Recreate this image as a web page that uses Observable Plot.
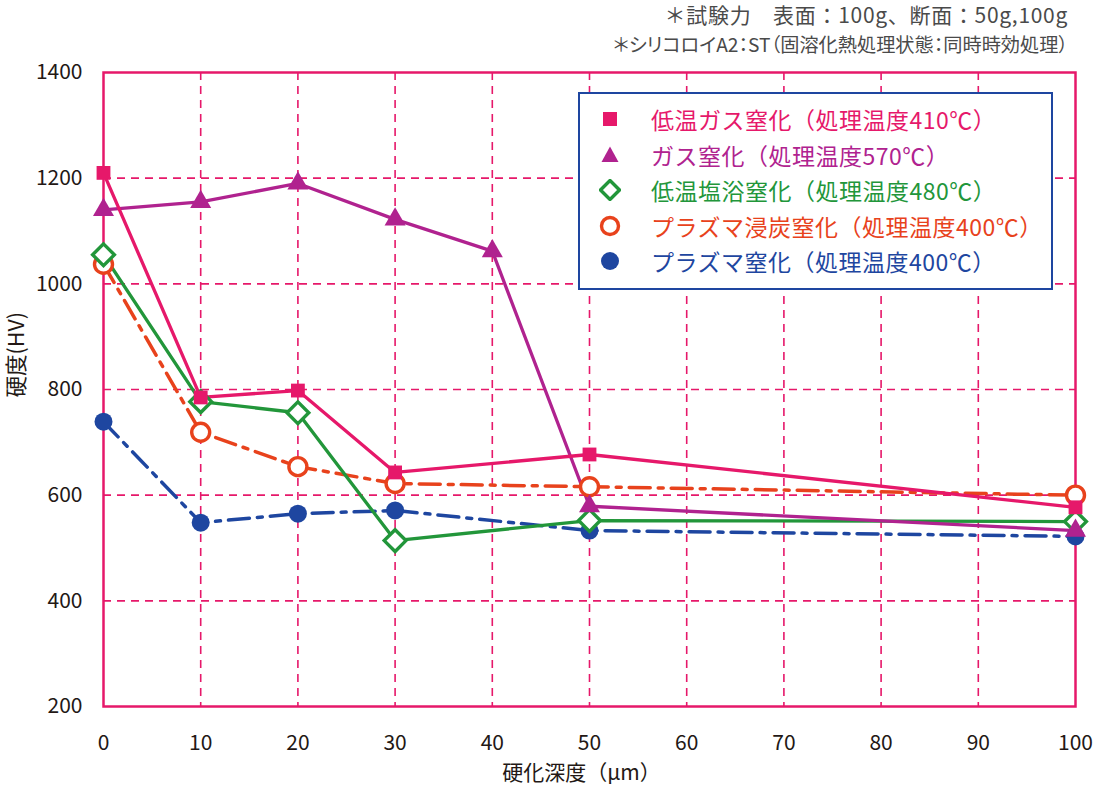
<!DOCTYPE html>
<html><head><meta charset="utf-8">
<script src="https://cdn.jsdelivr.net/npm/d3@7"></script>
<script src="https://cdn.jsdelivr.net/npm/@observablehq/plot@0.6"></script>
<style>
body{margin:0;background:#fff;}
#wrap{position:relative;width:1095px;height:794px;font-family:"Noto Sans CJK JP","Noto Sans",sans-serif;}
#legend{position:absolute;left:578px;top:92px;width:471px;height:194px;border:2px solid #1E46A0;background:#fff;}
.row{position:absolute;left:0;height:34px;display:flex;align-items:center;font-size:23px;white-space:nowrap;letter-spacing:0.5px;}
.row svg{margin-left:19px;margin-right:30px;flex:none;}
.note{position:absolute;right:27px;color:#4a4a4a;white-space:nowrap;line-height:1;}
</style></head>
<body><div id="wrap"></div>
<script>
const depthsA = [0, 10, 20, 30, 50, 100];
const depthsB = [0, 10, 20, 30, 40, 50, 100];
const lowTempGas = [1210, 785, 798, 643, 677, 577];
const gas570 = [1140, 1155, 1190, 1122, 1062, 579, 533];
const saltBath = [1055, 777, 756, 514, 552, 550];
const plasmaCarb = [1037, 719, 654, 622, 616, 600];
const plasma = [739, 548, 565, 571, 533, 522];
const names = ["低温ガス窒化（処理温度410℃）","ガス窒化（処理温度570℃）","低温塩浴窒化（処理温度480℃）","プラズマ浸炭窒化（処理温度400℃）","プラズマ窒化（処理温度400℃）"];
const xTicks = [0,10,20,30,40,50,60,70,80,90,100];
const yTicks = [200,400,600,800,1000,1200,1400];
const note1 = "＊試験力　表面：100g、断面：50g,100g";
const note2 = "＊シリコロイA2：ST（固溶化熱処理状態：同時時効処理）";
const xLabel = "硬化深度（μm）";
const yLabel = "硬度(HV)";

const PINK="#E6186A", MAG="#B0228F", GREEN="#22963A", ORANGE="#E8421C", BLUE="#1E46A0", TXT="#231815";
const mk = (xs, ys) => xs.map((x,i)=>({x, y: ys[i]}));
const sA = mk(depthsA, lowTempGas), sB = mk(depthsB, gas570), sC = mk(depthsA, saltBath),
      sD = mk(depthsA, plasmaCarb), sE = mk(depthsA, plasma);

const chart = Plot.plot({
  width: 1095, height: 794,
  marginLeft: 103, marginRight: 20, marginTop: 72, marginBottom: 88,
  style: {fontFamily: '"Noto Sans CJK JP","Noto Sans",sans-serif', background: "#fff", color: TXT},
  x: {domain: [0, 100]},
  y: {domain: [200, 1400]},
  marks: [
    Plot.ruleX(xTicks.slice(1, -1), {stroke: PINK, strokeWidth: 1.6, strokeDasharray: "8,6"}),
    Plot.ruleY(yTicks.slice(1, -1), {stroke: PINK, strokeWidth: 1.6, strokeDasharray: "8,6"}),
    Plot.frame({stroke: PINK, strokeWidth: 2.5}),
    Plot.axisX({ticks: xTicks, tickSize: 0, tickPadding: 29, fontSize: 21, label: null, fill: TXT, tickFormat: d => String(d)}),
    Plot.axisY({ticks: yTicks, tickSize: 0, tickPadding: 21, fontSize: 21, label: null, fill: TXT, tickFormat: d => String(d)}),
    Plot.text([xLabel], {frameAnchor: "bottom", dx: -8, dy: 73, fontSize: 21, fill: TXT}),
    Plot.text([yLabel], {frameAnchor: "left", dx: -86, dy: 8, rotate: -90, fontSize: 21.5, fill: TXT}),
    Plot.line(sE, {x: "x", y: "y", stroke: BLUE, strokeWidth: 3.5, strokeDasharray: "21,8,5,8"}),
    Plot.line(sD, {x: "x", y: "y", stroke: ORANGE, strokeWidth: 3.5, strokeDasharray: "21,8,5,8"}),
    Plot.line(sC, {x: "x", y: "y", stroke: GREEN, strokeWidth: 3.3}),
    Plot.line(sB, {x: "x", y: "y", stroke: MAG, strokeWidth: 3.3}),
    Plot.line(sA, {x: "x", y: "y", stroke: PINK, strokeWidth: 3.3}),
    Plot.dot(sE, {x: "x", y: "y", r: 9, fill: BLUE, stroke: "none"}),
    Plot.dot(sD, {x: "x", y: "y", r: 9, fill: "#fff", stroke: ORANGE, strokeWidth: 3.4}),
    Plot.dot(sC, {x: "x", y: "y", r: 9.8, symbol: "diamond2", fill: "#fff", stroke: GREEN, strokeWidth: 3.4}),
    Plot.dot(sB, {x: "x", y: "y", r: 7.8, symbol: "triangle", fill: MAG, stroke: "none"}),
    Plot.dot(sA, {x: "x", y: "y", r: 7.8, symbol: "square", fill: PINK, stroke: "none"})
  ]
});
const wrap = document.getElementById("wrap");
wrap.appendChild(chart);

[[note1, 4, "21px", "0.7px", "normal"], [note2, 35, "19.2px", "0px", '"palt"']].forEach(([t, top, fs, ls, ff]) => {
  const d = document.createElement("div");
  d.className = "note";
  d.style.top = top + "px";
  d.style.fontSize = fs;
  d.style.letterSpacing = ls;
  d.style.fontFeatureSettings = ff;
  d.textContent = t;
  wrap.appendChild(d);
});

const legend = document.createElement("div");
legend.id = "legend";
const colors = [PINK, MAG, GREEN, ORANGE, BLUE];
const icons = [
  '<rect x="4" y="4" width="14" height="14" fill="'+PINK+'"/>',
  '<path d="M11,2.5 L19.5,18 L2.5,18 Z" fill="'+MAG+'"/>',
  '<path d="M11,1.5 L20.5,11 L11,20.5 L1.5,11 Z" fill="#fff" stroke="'+GREEN+'" stroke-width="3.4"/>',
  '<circle cx="11" cy="11" r="8.5" fill="#fff" stroke="'+ORANGE+'" stroke-width="3.4"/>',
  '<circle cx="11" cy="11" r="9" fill="'+BLUE+'"/>'
];
names.forEach((n, i) => {
  const row = document.createElement("div");
  row.className = "row";
  row.style.top = (8 + i * 35.5) + "px";
  row.style.color = colors[i];
  row.innerHTML = '<svg width="22" height="22" viewBox="0 0 22 22">' + icons[i] + '</svg><span>' + n + '</span>';
  legend.appendChild(row);
});
wrap.appendChild(legend);
</script></body></html>
